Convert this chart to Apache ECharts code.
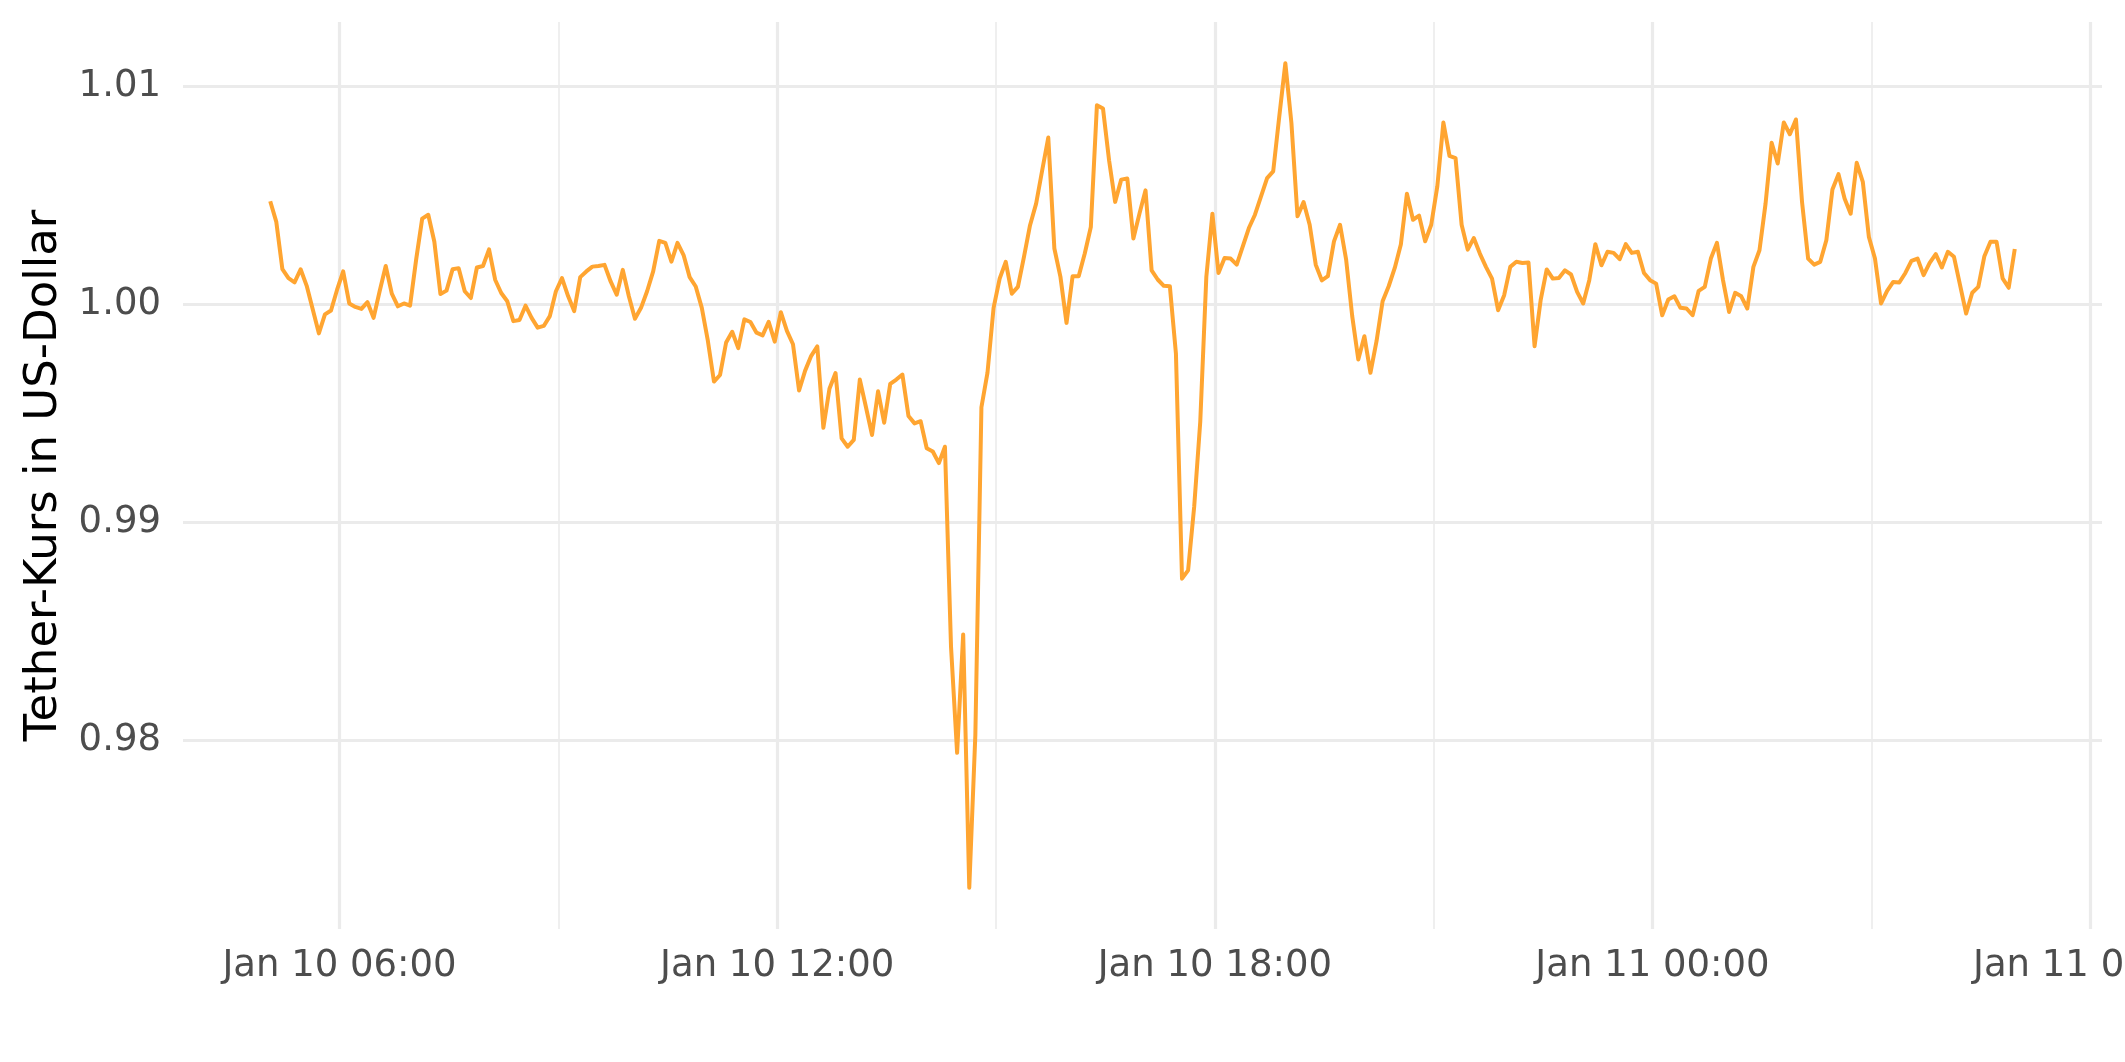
<!DOCTYPE html>
<html>
<head>
<meta charset="utf-8">
<script src="https://cdn.jsdelivr.net/npm/echarts@6/dist/echarts.min.js"></script>
<style>
html,body{margin:0;padding:0;background:#ffffff;}
#chart{width:2125px;height:1062px;}
</style>
</head>
<body>
<div id="chart"></div>
<script>
// ---- data (5-minute Tether price readings, UTC) ----
const seriesStart = '2024-01-10T05:03:00Z';
const stepMinutes = 5;
const usdtPrice = [
  1.00474, 1.00379, 1.00162, 1.00121, 1.00102, 1.00162, 1.00086, 0.99977, 0.99868, 0.99955, 0.99973, 1.00068,
  1.00152, 1.00005, 0.99989, 0.99980, 1.00011, 0.99939, 1.00061, 1.00177, 1.00050, 0.99992, 1.00005, 0.99995,
  1.00205, 1.00394, 1.00412, 1.00288, 1.00048, 1.00064, 1.00162, 1.00167, 1.00061, 1.00030, 1.00170, 1.00177,
  1.00253, 1.00114, 1.00053, 1.00015, 0.99924, 0.99929, 0.99995, 0.99939, 0.99894, 0.99902, 0.99947, 1.00061,
  1.00121, 1.00039, 0.99970, 1.00126, 1.00152, 1.00174, 1.00177, 1.00182, 1.00106, 1.00045, 1.00159, 1.00038,
  0.99935, 0.99985, 1.00061, 1.00152, 1.00292, 1.00283, 1.00197, 1.00283, 1.00227, 1.00126, 1.00083, 0.99985,
  0.99833, 0.99647, 0.99677, 0.99826, 0.99875, 0.99800, 0.99932, 0.99920, 0.99871, 0.99859, 0.99921, 0.99830,
  0.99965, 0.99879, 0.99818, 0.99606, 0.99697, 0.99765, 0.99808, 0.99435, 0.99614, 0.99686, 0.99386, 0.99348,
  0.99379, 0.99656, 0.99530, 0.99402, 0.99602, 0.99458, 0.99636, 0.99656, 0.99679, 0.99489, 0.99455, 0.99465,
  0.99341, 0.99326, 0.99273, 0.99348, 0.98430, 0.97944, 0.98487, 0.97325, 0.98025, 0.99529, 0.99688, 0.99985,
  1.00119, 1.00196, 1.00050, 1.00081, 1.00219, 1.00364, 1.00463, 1.00616, 1.00766, 1.00257, 1.00127, 0.99916,
  1.00130, 1.00130, 1.00234, 1.00356, 1.00914, 1.00899, 1.00662, 1.00471, 1.00573, 1.00578, 1.00303, 1.00417,
  1.00524, 1.00157, 1.00115, 1.00086, 1.00084, 0.99775, 0.98743, 0.98781, 0.99072, 0.99462, 1.00127, 1.00417,
  1.00145, 1.00214, 1.00211, 1.00183, 1.00267, 1.00351, 1.00412, 1.00496, 1.00580, 1.00611, 1.00863, 1.01107,
  1.00832, 1.00405, 1.00470, 1.00366, 1.00183, 1.00111, 1.00130, 1.00290, 1.00366, 1.00206, 0.99947, 0.99748,
  0.99855, 0.99687, 0.99832, 1.00015, 1.00084, 1.00168, 1.00275, 1.00508, 1.00389, 1.00408, 1.00290, 1.00366,
  1.00542, 1.00835, 1.00682, 1.00672, 1.00366, 1.00252, 1.00305, 1.00234, 1.00173, 1.00119, 0.99974, 1.00043,
  1.00173, 1.00196, 1.00191, 1.00193, 0.99809, 1.00020, 1.00161, 1.00119, 1.00122, 1.00157, 1.00138, 1.00058,
  1.00005, 1.00112, 1.00277, 1.00180, 1.00242, 1.00237, 1.00208, 1.00277, 1.00237, 1.00242, 1.00145, 1.00112,
  1.00096, 0.99951, 1.00023, 1.00038, 0.99985, 0.99982, 0.99951, 1.00063, 1.00081, 1.00211, 1.00283, 1.00112,
  0.99966, 1.00054, 1.00038, 0.99982, 1.00173, 1.00249, 1.00463, 1.00742, 1.00647, 1.00835, 1.00781, 1.00849,
  1.00471, 1.00211, 1.00183, 1.00196, 1.00295, 1.00528, 1.00598, 1.00486, 1.00417, 1.00650, 1.00563, 1.00310,
  1.00211, 1.00005, 1.00063, 1.00104, 1.00101, 1.00145, 1.00200, 1.00211, 1.00135, 1.00191, 1.00231, 1.00170,
  1.00242, 1.00219, 1.00089, 0.99959, 1.00054, 1.00081, 1.00222, 1.00288, 1.00288, 1.00120, 1.00077, 1.00255
];

// axis ranges and ticks
const xAxisMin = '2024-01-10T03:51:15Z';
const xAxisMax = '2024-01-11T06:09:45Z';
const xMajorTicks = ['2024-01-10T06:00:00Z', '2024-01-10T12:00:00Z', '2024-01-10T18:00:00Z', '2024-01-11T00:00:00Z', '2024-01-11T06:00:00Z'];
const xMinorTicks = ['2024-01-10T09:00:00Z', '2024-01-10T15:00:00Z', '2024-01-10T21:00:00Z', '2024-01-11T03:00:00Z'];
const yAxisMin = 0.97136;
const yAxisMax = 1.01296;
const yMajorTicks = [0.98, 0.99, 1.00, 1.01];
const yMinorTicks = [0.975, 0.985, 0.995, 1.005];
const yAxisTitle = 'Tether-Kurs in US-Dollar';

// ---- build ----
const t0 = Date.parse(seriesStart);
const lineData = usdtPrice.map((v, i) => [t0 + i * stepMinutes * 60000, v]);
const ms = s => Date.parse(s);
const monthNames = ['Jan','Feb','Mar','Apr','May','Jun','Jul','Aug','Sep','Oct','Nov','Dec'];
const pad = n => (n < 10 ? '0' : '') + n;
function fmtTime(v) {
  const d = new Date(v);
  return monthNames[d.getUTCMonth()] + ' ' + d.getUTCDate() + ' ' + pad(d.getUTCHours()) + ':' + pad(d.getUTCMinutes());
}

const gridColor = '#EBEBEB';
const majorW = 3.2, minorW = 1.6;
const gridLines = []
  .concat(xMinorTicks.map(t => ({ xAxis: ms(t), lineStyle: { width: minorW } })))
  .concat(yMinorTicks.map(v => ({ yAxis: v, lineStyle: { width: minorW } })))
  .concat(xMajorTicks.map(t => ({ xAxis: ms(t), lineStyle: { width: majorW } })))
  .concat(yMajorTicks.map(v => ({ yAxis: v, lineStyle: { width: majorW } })));

const font = 'DejaVu Sans';
const chart = echarts.init(document.getElementById('chart'), null, { renderer: 'canvas' });
chart.setOption({
  backgroundColor: '#ffffff',
  animation: false,
  grid: { left: 183, right: 23, top: 22, bottom: 133, containLabel: false, outerBoundsMode: 'none' },
  xAxis: {
    type: 'value',
    min: ms(xAxisMin),
    max: ms(xAxisMax),
    axisLine: { show: false },
    axisTick: { show: false },
    splitLine: { show: false },
    axisLabel: {
      customValues: xMajorTicks.map(ms),
      formatter: v => fmtTime(v),
      color: '#4D4D4D',
      fontFamily: font,
      fontSize: 37,
      margin: 19,
      hideOverlap: false
    }
  },
  yAxis: {
    type: 'value',
    min: yAxisMin,
    max: yAxisMax,
    axisLine: { show: false },
    axisTick: { show: false },
    splitLine: { show: false },
    axisLabel: {
      customValues: yMajorTicks,
      formatter: v => Number(v).toFixed(2),
      color: '#4D4D4D',
      fontFamily: font,
      fontSize: 37,
      margin: 22
    },
    name: yAxisTitle,
    nameLocation: 'middle',
    nameGap: 116,
    nameRotate: 90,
    nameTextStyle: { color: '#000000', fontFamily: font, fontSize: 45 }
  },
  series: [
    {
      type: 'line',
      name: 'grid',
      data: [],
      z: 1,
      silent: true,
      markLine: {
        silent: true,
        symbol: ['none', 'none'],
        label: { show: false },
        emphasis: { disabled: true },
        animation: false,
        lineStyle: { color: gridColor, type: 'solid', width: majorW },
        data: gridLines
      }
    },
    {
      type: 'line',
      name: 'Tether',
      data: lineData,
      z: 5,
      showSymbol: false,
      symbol: 'none',
      smooth: false,
      lineStyle: { color: '#FFA531', width: 4, join: 'round' },
      itemStyle: { color: '#FFA531' }
    }
  ]
});
</script>
</body>
</html>
